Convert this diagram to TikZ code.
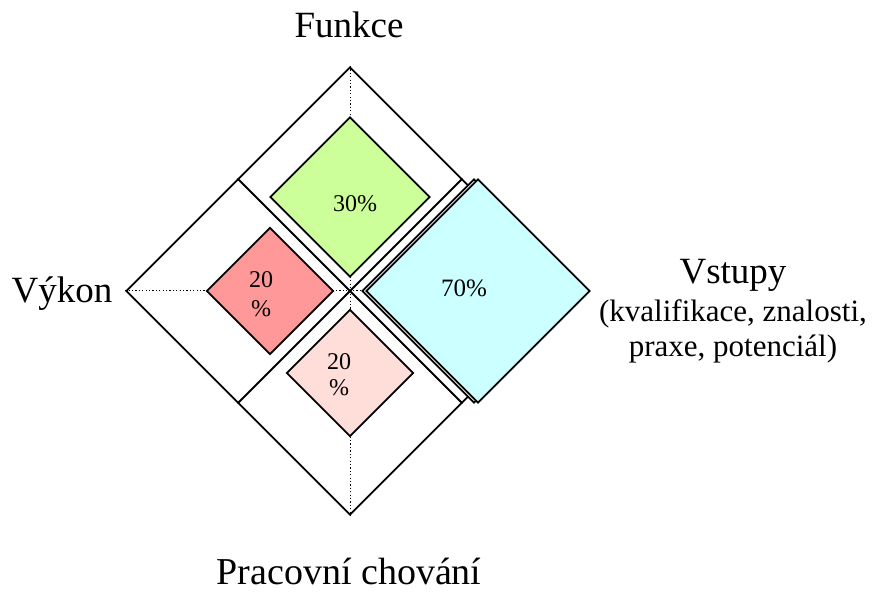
\documentclass[tikz,border=0pt]{standalone}
\usepackage{fontspec}
\setmainfont{Liberation Serif}
\usetikzlibrary{calc, positioning, shapes.geometric}
\definecolor{Funkce_green}{RGB}{204,255,153}
\definecolor{Vykon_red}{RGB}{255,153,153}
\definecolor{Chovani_pink}{RGB}{255,221,217}
\definecolor{Vstupy_cyan}{RGB}{204,255,255}
\tikzset{
  field/.style={diamond, draw, line width=1.8pt, inner sep=0pt, aspect=1,
    minimum width=#1, minimum height=#1},
  guide/.style={line width=1pt, dash pattern=on 1.2pt off 2.2pt},
  pct/.style={font=\fontsize{24}{26}\selectfont, anchor=base, inner sep=0pt},
  side label/.style={font=\fontsize{37}{40}\selectfont, anchor=base, inner sep=0pt},
  side note/.style={font=\fontsize{31}{33}\selectfont, anchor=base, inner sep=0pt}
}

\begin{document}
\begin{tikzpicture}[x=1pt, y=-1pt]
    \useasboundingbox (0,0) rectangle (875,593);
    % big frame with its quarters
    \node[field=448] (outer) at (350,291) {};
    \coordinate (nw) at ($(outer.north)!0.5!(outer.west)$);
    \coordinate (ne) at ($(outer.north)!0.5!(outer.east)$);
    \coordinate (sw) at ($(outer.south)!0.5!(outer.west)$);
    \coordinate (se) at ($(outer.south)!0.5!(outer.east)$);
    \draw[line width=1.8pt] (nw) -- (se);
    \draw[line width=1.8pt] (ne) -- (sw);
    \draw[guide] (outer.north) -- (outer.south);
    \draw[guide] (outer.west) -- (outer.east);
    % the pulled out quarter
    \node[field=224, fill=white] (gap) at (474,291) {};
    \node[field=224, fill=Vstupy_cyan] (vstupy) at (478,291) {};
    \node[field=160, fill=Funkce_green] (funkce) at (350,197) {};
    \node[field=127, fill=Vykon_red] (vykon) at (270,291) {};
    \node[field=127, fill=Chovani_pink] (chovani) at (350,373) {};
    % percentages
    \node[pct] (p30) at (355,212) {30\%};
    \node[pct, font=\fontsize{25}{27}\selectfont] (p70) at (464,297) {70\%};
    \node[pct] (p20a) at (261,288) {20};
    \node[pct] (p20a pct) at (261,317) {\%};
    \node[pct] (p20b) at (339,370) {20};
    \node[pct] (p20b pct) at (339,395) {\%};
    % labels
    \node[side label] (l funkce) at (349,38) {Funkce};
    \node[side label] (l vykon) at (62,303) {Výkon};
    \node[side label] (l vstupy) at (733,284) {Vstupy};
    \node[side note] (l vstupy a) at (733,322) {(kvalifikace, znalosti,};
    \node[side note] (l vstupy b) at (733,356) {praxe, potenciál)};
    \node[side label, font=\fontsize{38}{40}\selectfont] (l chovani) at (349,584) {Pracovní chování};
\end{tikzpicture}
\end{document}
